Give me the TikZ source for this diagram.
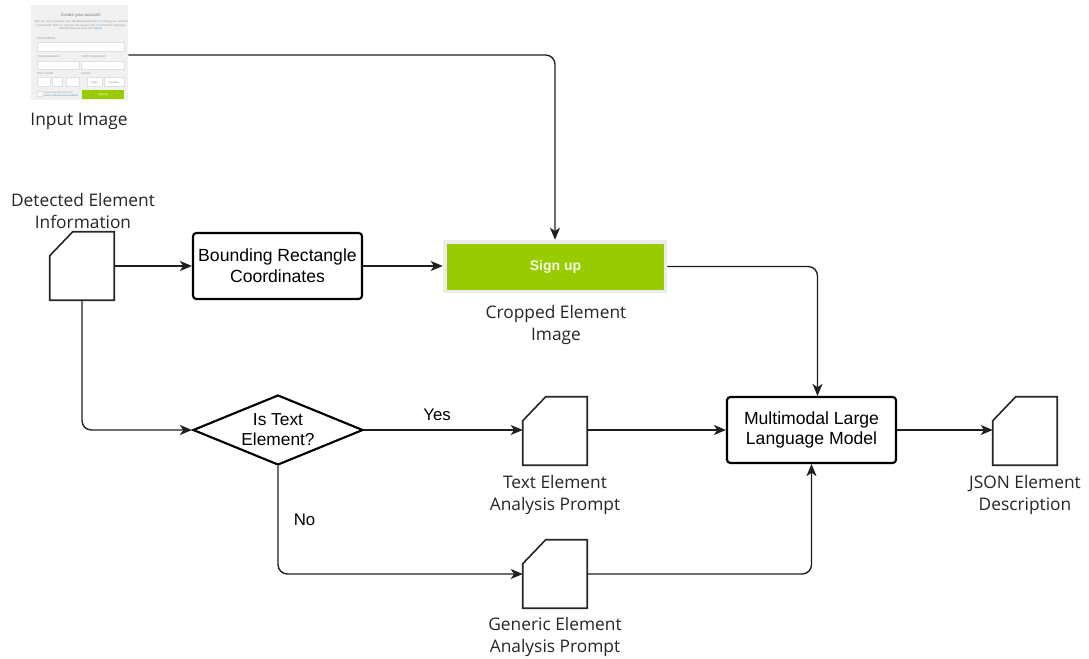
\documentclass[tikz,border=0pt]{standalone}
\usepackage{fontspec}
\setmainfont{Liberation Sans}
\newfontfamily\labelfont{Open Sans}
\usetikzlibrary{arrows.meta,shapes.geometric}
\definecolor{btngreen}{HTML}{99CC00}
\definecolor{formbg}{HTML}{F1F1F1}
\definecolor{formtxt}{HTML}{9A9A9A}
\definecolor{linkblue}{HTML}{3A8FD0}
\tikzset{
  conn/.style={line width=1.35pt*0.75, draw=black!88, rounded corners=7pt, -{Stealth[length=9pt,width=7.5pt,inset=2.5pt]}},
  procbox/.style={draw, line width=1.6pt, rounded corners=2.5pt, minimum width=169*0.75pt, minimum height=66*0.75pt, align=center, font=\fontsize{13.2}{15.5}\selectfont, inner sep=0pt},
  decision/.style={diamond, draw, line width=1.6pt, aspect=2.43, minimum width=170*0.75pt, minimum height=70*0.75pt, inner sep=0pt, align=center, font=\fontsize{13}{15}\selectfont},
  docbox/.style={minimum width=64*0.75pt, minimum height=68*0.75pt, inner sep=0pt},
  docline/.style={line width=1.2pt, draw=black!85},
  caption/.style={align=center, font=\labelfont\fontsize{13}{15.8}\selectfont, text=black!85},
  answer/.style={font=\fontsize{12.6}{14}\selectfont},
  tiny/.style={font=\fontsize{2.2}{2.6}\selectfont, inner sep=0pt, text=formtxt},
  field/.style={draw=black!12, fill=white, line width=0.3pt},
}
% document outline with a cut top-left corner
\newcommand\cutdoc[1]{%
  \draw[docline] ([yshift=-24*0.75pt]#1.north west) -- ([xshift=23*0.75pt]#1.north west)
    -- (#1.north east) -- (#1.south east) -- (#1.south west) -- cycle;}
\begin{document}
\begin{tikzpicture}[x=0.75pt,y=-0.75pt]
\useasboundingbox[fill=white] (0,0) rectangle (1089,659);

% ---- sign-up form thumbnail ----
\node[minimum width=97*0.75pt, minimum height=95*0.75pt, inner sep=0pt, fill=formbg] (img) at (79.5,52.5) {};
\begin{scope}
  \node[tiny, text=black!55, font=\fontsize{3.2}{3.6}\selectfont] (ftitle) at (81,15) {Create your account!};
  \node[tiny, align=center] (fintro) at (81,25.5) {Sign up now to preview your dashboard and start receiving your tailored\\ reports and SMS. To set your file-owned, visit on board the language\\ Already have an account? \textcolor{linkblue}{Log in.}};
  \node[tiny, anchor=west] (femail) at (37,38.5) {Email address};
  \draw[field] (37,42.5) rectangle (124,51);
  \node[tiny, anchor=west] (fpw) at (37,57) {Create password};
  \node[tiny, anchor=west] (fpw2) at (81,57) {Confirm password};
  \draw[field] (37,61) rectangle (79,69);
  \draw[field] (81,61) rectangle (124,69);
  \node[tiny, anchor=west] (fdob) at (37,73.5) {Date of birth};
  \node[tiny, anchor=west] (fgen) at (81,73.5) {Gender};
  \draw[field] (37,77.5) rectangle (50,86);
  \draw[field] (52,77.5) rectangle (62,86);
  \draw[field] (66,77.5) rectangle (79,86);
  \draw[field] (87,77.5) rectangle (102,86);
  \draw[field] (104,77.5) rectangle (124,86);
  \node[tiny] (fmale) at (94.5,82) {Male};
  \node[tiny] (ffem) at (114,82) {Female};
  \draw[field] (37.5,91.5) rectangle (42,96);
  \node[tiny, anchor=west, align=left, font=\fontsize{1.8}{2.2}\selectfont] (fterms) at (44,94) {I have read and accept the\\ \textcolor{linkblue}{Terms of Service and conditions}};
  \fill[btngreen] (82,90) rectangle (124,99);
  \node[tiny, text=white] (fbtn) at (103,94.5) {Sign up};
\end{scope}
\node[caption] (imgcap) at (79,121) {Input Image};

% ---- detected element information ----
\node[docbox] (det) at (82,266) {};
\cutdoc{det}
\node[caption] (detcap) at (83,211) {Detected Element\\Information};

% ---- bounding rectangle ----
\node[procbox] (brc) at (277.5,266) {Bounding Rectangle\\Coordinates};

% ---- cropped element image ----
\node[minimum width=224*0.75pt, minimum height=53*0.75pt, inner sep=0pt, fill=black!8] (crop) at (555,266.5) {};
\node[minimum width=217*0.75pt, minimum height=46*0.75pt, inner sep=0pt, fill=btngreen, text=white!88!btngreen, font=\bfseries\fontsize{10.5}{12}\selectfont] (cropbtn) at (555.5,267) {Sign up};
\node[caption] (cropcap) at (556,325) {Cropped Element\\Image};

% ---- decision ----
\node[decision] (dec) at (278,430) {Is Text\\Element?};

% ---- prompts ----
\node[docbox] (tprompt) at (555,431) {};
\cutdoc{tprompt}
\node[caption] (tcap) at (555,495) {Text Element\\Analysis Prompt};
\node[docbox] (gprompt) at (555,574) {};
\cutdoc{gprompt}
\node[caption] (gcap) at (555,637) {Generic Element\\Analysis Prompt};

% ---- model and output ----
\node[procbox] (llm) at (811.5,430) {Multimodal Large\\Language Model};
\node[docbox] (json) at (1025,431) {};
\cutdoc{json}
\node[caption] (jcap) at (1025,495) {JSON Element\\Description};

% ---- connectors ----
\coordinate (imgturn) at (555,55);
\draw[conn] (img.east |- imgturn) -- (imgturn) -- (crop.north);
\draw[conn] (det.east |- brc) -- (brc.west);
\draw[conn] (brc.east) -- (crop.west |- brc.east);
\draw[conn] (crop.east) -| ([xshift=6*0.75pt]llm.north);
\draw[conn] (det.south) |- (dec.west);
\draw[conn] (dec.east) -- node[answer, above=3pt, pos=0.46] (yes) {Yes} (tprompt.west |- dec.east);
\draw[conn] (dec.south) |- node[answer, pos=0.25, right=8pt] (no) {No} (gprompt.west);
\draw[conn] (tprompt.east |- llm.west) -- (llm.west);
\draw[conn] (gprompt.east) -| (llm.south);
\draw[conn] (llm.east) -- (json.west |- llm.east);
\end{tikzpicture}
\end{document}
